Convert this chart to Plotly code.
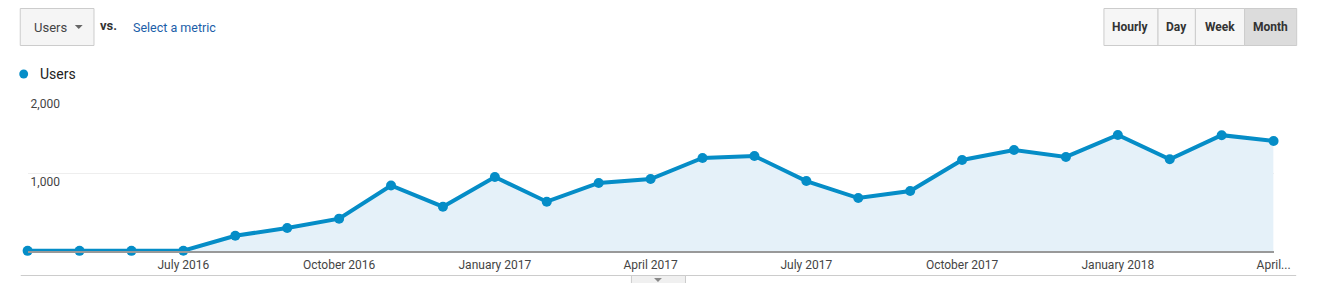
import plotly.graph_objects as go

W, H = 1325, 283

months = ["Apr 2016", "May 2016", "Jun 2016", "Jul 2016", "Aug 2016", "Sep 2016",
          "Oct 2016", "Nov 2016", "Dec 2016", "Jan 2017", "Feb 2017", "Mar 2017",
          "Apr 2017", "May 2017", "Jun 2017", "Jul 2017", "Aug 2017", "Sep 2017",
          "Oct 2017", "Nov 2017", "Dec 2017", "Jan 2018", "Feb 2018", "Mar 2018",
          "Apr 2018"]
users = [2, 2, 2, 4, 196, 295, 415, 840, 568, 949, 632, 872,
         923, 1192, 1218, 897, 679, 769, 1167, 1295, 1206, 1487, 1176, 1485, 1410]
x_tick_idx = [0, 3, 6, 9, 12, 15, 18, 21, 24]
x_tick_text = ["...", "July 2016", "October 2016", "January 2017", "April 2017",
               "July 2017", "October 2017", "January 2018", "April..."]
y_tick_vals = [1000, 2000]
y_tick_text = ["1,000", "2,000"]
buttons = ["Hourly", "Day", "Week", "Month"]

BLUE = "#058dc7"
FONT = "Roboto"

def px(x):
    return x / W

def py(y):
    return 1 - y / H

idx = list(range(len(months)))

fig = go.Figure()
fig.add_trace(go.Scatter(
    x=idx, y=users, mode="lines+markers",
    line=dict(color=BLUE, width=4),
    marker=dict(size=10, color=BLUE),
    fill="tozeroy", fillcolor="#e5f1f9",
    cliponaxis=False, hoverinfo="skip", text=months,
))

fig.update_layout(
    width=W, height=H,
    margin=dict(l=0, r=0, t=0, b=0),
    paper_bgcolor="white", plot_bgcolor="white",
    showlegend=False,
    font=dict(family=FONT, size=12, color="#444"),
    xaxis=dict(
        domain=[px(23), px(1290)], range=[0, 24],
        tickvals=x_tick_idx, ticktext=x_tick_text,
        showgrid=False, zeroline=False,
        showline=True, linecolor="#999", linewidth=2,
        ticks="", tickfont=dict(size=12, color="#444", family=FONT),
        ticklabelstandoff=2, ticklabeloverflow="allow",
    ),
    yaxis=dict(
        domain=[py(251), py(95)], range=[0, 2000],
        tickvals=y_tick_vals, ticktext=y_tick_text,
        showgrid=True, gridcolor="#eeeeee", gridwidth=1,
        zeroline=False, showline=False, ticks="",
        ticklabelposition="inside bottom",
        tickfont=dict(size=12, color="#444", family=FONT),
    ),
)

shapes = []
ann = []

# Dropdown
shapes.append(dict(type="rect", xref="paper", yref="paper",
                   x0=px(15.5), x1=px(90.5), y0=py(45.5), y1=py(8.5),
                   line=dict(color="#cccccc", width=1), fillcolor="#f5f5f5", layer="below"))
ann.append(dict(x=px(27), y=py(27), text="Users", xanchor="left", yanchor="middle",
                font=dict(size=13, color="#444", family=FONT)))
shapes.append(dict(type="path", xref="paper", yref="paper",
                   path=f"M {px(71)} {py(25)} L {px(79)} {py(25)} L {px(75)} {py(29)} Z",
                   fillcolor="#666", line=dict(width=0)))
ann.append(dict(x=px(95), y=py(26), text="<b>vs.</b>", xanchor="left", yanchor="middle",
                font=dict(size=13, color="#333", family=FONT)))
ann.append(dict(x=px(128), y=py(27), text="Select a metric", xanchor="left", yanchor="middle",
                font=dict(size=12.5, color="#1a5ea8", family=FONT)))

# Right button group
edges = [1117.5, 1172.5, 1210.5, 1260.5, 1313.5]
for i, b in enumerate(buttons):
    fill = "#dcdcdc" if b == "Month" else "#f6f6f6"
    shapes.append(dict(type="rect", xref="paper", yref="paper",
                       x0=px(edges[i]), x1=px(edges[i + 1]), y0=py(45.5), y1=py(8.5),
                       line=dict(color="#cccccc", width=1), fillcolor=fill, layer="below"))
    ann.append(dict(x=px((edges[i] + edges[i + 1]) / 2), y=py(27), text=f"<b>{b}</b>",
                    xanchor="center", yanchor="middle",
                    font=dict(size=12, color="#333", family=FONT)))

# Legend
shapes.append(dict(type="circle", xref="paper", yref="paper",
                   x0=px(14.5), x1=px(23.5), y0=py(78.5), y1=py(69.5),
                   fillcolor=BLUE, line=dict(width=0)))
ann.append(dict(x=px(34), y=py(74), text="Users", xanchor="left", yanchor="middle",
                font=dict(size=14, color="#222", family=FONT)))

# Bottom separator and tab
shapes.append(dict(type="line", xref="paper", yref="paper",
                   x0=px(16), x1=px(1313), y0=py(275.5), y1=py(275.5),
                   line=dict(color="#cccccc", width=1)))
shapes.append(dict(type="rect", xref="paper", yref="paper",
                   x0=px(637), x1=px(692), y0=py(284), y1=py(275.5),
                   fillcolor="#f0f0f0", line=dict(color="#cccccc", width=1)))
shapes.append(dict(type="path", xref="paper", yref="paper",
                   path=f"M {px(660)} {py(278)} L {px(668)} {py(278)} L {px(664)} {py(282)} Z",
                   fillcolor="#888", line=dict(width=0)))

for a in ann:
    a.update(xref="paper", yref="paper", showarrow=False)
fig.update_layout(shapes=shapes, annotations=ann)

fig.write_html("out.html")
